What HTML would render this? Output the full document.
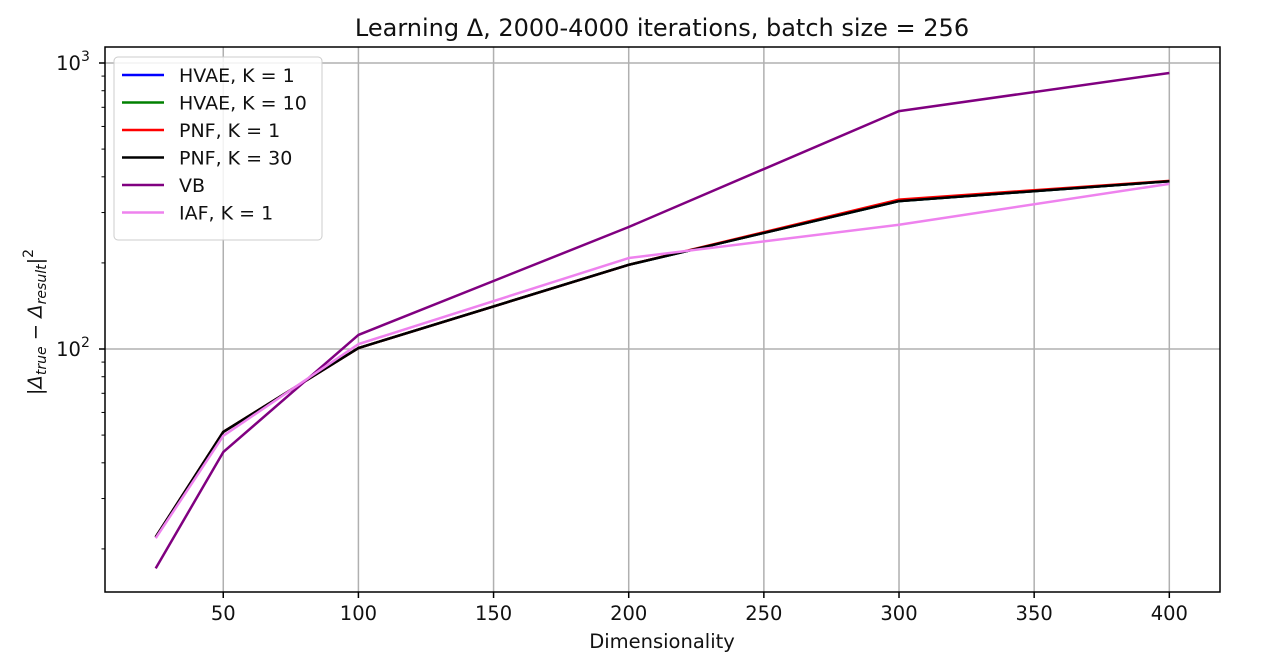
<!DOCTYPE html>
<html><head><meta charset="utf-8"><style>
body{margin:0;background:#fff;width:1280px;height:664px;overflow:hidden;font-family:"Liberation Sans","DejaVu Sans",sans-serif}
</style></head><body>
<svg id="chart" width="1280" height="664" xmlns="http://www.w3.org/2000/svg" font-family="DejaVu Sans, Liberation Sans, sans-serif"></svg>
<script>
const categories = [25, 50, 100, 200, 300, 400];
const hvae1 = [22, 51.3, 100.8, 197, 329, 386];
const hvae10 = [22, 51.3, 100.8, 197, 329, 386];
const pnf1 = [22, 51.3, 100.8, 197, 333, 387];
const pnf30 = [22, 51.3, 100.8, 197, 329, 386];
const vb = [17.1, 43.6, 112, 267, 679, 923];
const iaf = [21.8, 49.7, 104, 208, 272, 378];
const xTicks = [50, 100, 150, 200, 250, 300, 350, 400];
const yMajor = [100, 1000];
const yMajorLabels = ["2", "3"];

const L=105, R=1220, T=47, B=592;
const xMin=6.25, xMax=418.75;
const yLogMin=2-(592-349)/286, yLogMax=3+16/286;
const sx = v => L + (v - xMin) / (xMax - xMin) * (R - L);
const sy = v => B - (Math.log10(v) - yLogMin) / (yLogMax - yLogMin) * (B - T);
const svg = document.getElementById('chart');
const NS = 'http://www.w3.org/2000/svg';
function mk(tag, attrs, parent){const e=document.createElementNS(NS,tag);for(const k in attrs)e.setAttribute(k,attrs[k]);(parent||svg).appendChild(e);return e;}

xTicks.forEach(t=>{
  const g=mk('line',{x1:sx(t),x2:sx(t),y1:T,y2:B,stroke:'#b0b0b0','stroke-width':1.5});
  
  
  mk('line',{x1:sx(t),x2:sx(t),y1:B,y2:B+6,stroke:'#000','stroke-width':1.5});
  const tx=mk('text',{x:sx(t),y:B+28,'text-anchor':'middle','font-size':19.5,fill:'#111'});
  tx.textContent=t;
  
  
});
yMajor.forEach((t,i)=>{
  const g=mk('line',{x1:L,x2:R,y1:sy(t),y2:sy(t),stroke:'#b0b0b0','stroke-width':1.5});
  
  
  mk('line',{x1:L-6,x2:L,y1:sy(t),y2:sy(t),stroke:'#000','stroke-width':1.5});
  const tx=mk('text',{x:L-32,y:sy(t)+7,'text-anchor':'middle','font-size':19.5,fill:'#111'});
  tx.textContent='10';
  const sup=mk('tspan',{dy:-9,'font-size':14},tx);sup.textContent=yMajorLabels[i];
  
  
});
for(let d=10;d<1000;d*=10){for(let m=2;m<10;m++){const v=d*m;const y=sy(v);if(y<T||y>B)continue;mk('line',{x1:L-3.5,x2:L,y1:y,y2:y,stroke:'#000','stroke-width':1});}}

const series=[[hvae1,'#0000ff','HVAE, K = 1'],[hvae10,'#008000','HVAE, K = 10'],[pnf1,'#ff0000','PNF, K = 1'],[pnf30,'#000000','PNF, K = 30'],[vb,'#800080','VB'],[iaf,'#ee82ee','IAF, K = 1']];
series.forEach(([d,c,n])=>{
  const p=mk('polyline',{points:d.map((v,i)=>sx(categories[i])+','+sy(v)).join(' '),fill:'none',stroke:c,'stroke-width':2.5,'stroke-linejoin':'round'});
  
  
});

mk('rect',{x:L,y:T,width:R-L,height:B-T,fill:'none',stroke:'#000','stroke-width':1.5});

const lg=mk('g',{});


mk('rect',{x:114,y:57,width:208,height:183,rx:4,fill:'#fff','fill-opacity':0.85,stroke:'#ccc','stroke-width':1},lg);
series.forEach(([d,c,n],i)=>{
  const y=75+i*27.5;
  mk('line',{x1:122,x2:164,y1:y,y2:y,stroke:c,'stroke-width':2.5},lg);
  const t=mk('text',{x:179,y:y+7,'font-size':19,fill:'#111'},lg);t.textContent=n;
  
  
});

const title=mk('text',{x:662,y:36,'text-anchor':'middle','font-size':24,fill:'#111'});
title.textContent='Learning Δ, 2000-4000 iterations, batch size = 256';


const xl=mk('text',{x:662,y:648,'text-anchor':'middle','font-size':19.5,fill:'#111'});
xl.textContent='Dimensionality';


const yl=mk('text',{x:0,y:0,'text-anchor':'middle','font-size':19.5,fill:'#111',transform:'translate(42,322) rotate(-90)'});
yl.innerHTML='|<tspan font-style="italic">Δ</tspan><tspan font-style="italic" font-size="14" dy="4">true</tspan><tspan dy="-4"> − </tspan><tspan font-style="italic">Δ</tspan><tspan font-style="italic" font-size="14" dy="4">result</tspan><tspan dy="-4">|</tspan><tspan font-size="14" dy="-9">2</tspan>';


</script>
</body></html>
